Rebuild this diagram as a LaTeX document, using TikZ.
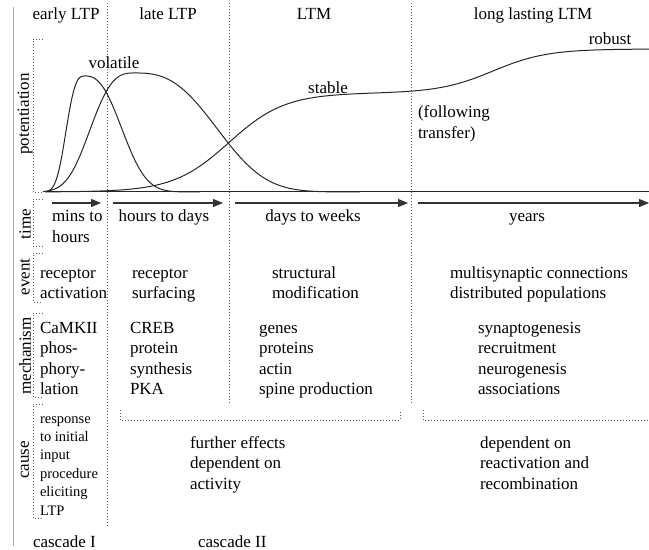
\documentclass[tikz,border=0pt]{standalone}
\usepackage{fontspec}
\setmainfont{Liberation Serif}
\usetikzlibrary{arrows.meta}
\begin{document}
\begin{tikzpicture}[x=1bp,y=-1bp,
  every node/.style={inner sep=0pt, outer sep=0pt},
  lbl/.style={font=\fontsize{17bp}{20.5bp}\selectfont, align=left, anchor=base west},
  hdr/.style={font=\fontsize{17bp}{20.5bp}\selectfont, anchor=base},
  rowlbl/.style={font=\fontsize{17bp}{20bp}\selectfont, rotate=90, anchor=center},
  smalllbl/.style={font=\fontsize{14.5bp}{18.4bp}\selectfont, align=left, anchor=base west},
  dots/.style={draw=black!65, line width=0.9bp, dash pattern=on 0.9bp off 2.1bp},
  curve/.style={draw=black!85, line width=1bp},
  tarrow/.style={draw=black!80, line width=1.1bp, -{Triangle[length=10bp,width=8bp]}},
]
\useasboundingbox (0,0) rectangle (649,550);

% left gray rule
\draw[black!35, line width=0.8bp] (13,7) -- (13,546);

% column separators
\draw[dots] (107,3) -- (107,527);
\draw[dots] (229,3) -- (229,405);
\draw[dots] (411,3) -- (411,405);

% row brackets
\draw[dots] (43,39) -- (33,39) -- (33,192) -- (43,192);
\draw[dots] (43,199) -- (33,199) -- (33,246) -- (43,246);
\draw[dots] (43,253) -- (33,253) -- (33,302) -- (43,302);
\draw[dots] (43,313) -- (33,313) -- (33,397) -- (43,397);
\draw[dots] (43,404) -- (33,404) -- (33,518) -- (43,518);

% cause brackets
\draw[dots] (120,410) -- (120,420) -- (400,420) -- (400,410);
\draw[dots] (423,410) -- (423,420) -- (649,420);

% row labels
\node[rowlbl] (lpot) at (25,114) {potentiation};
\node[rowlbl] (ltime) at (25,224) {time};
\node[rowlbl] (levent) at (25,277) {event};
\node[rowlbl] (lmech) at (25,356) {mechanism};
\node[rowlbl] (lcause) at (25,460) {cause};

% headers
\node[hdr] (h1) at (66,20) {early LTP};
\node[hdr] (h2) at (168,20) {late LTP};
\node[hdr] (h3) at (314,20) {LTM};
\node[hdr] (h4) at (533,20) {long lasting LTM};

% graph baseline
\coordinate (b0) at (43,192);
\coordinate (b1) at (649,192);
\draw[black!85, line width=1bp] (b0) -- (b1);

% curves
\draw[curve] plot[domain=45:85, samples=60] (\x, {192-116*exp(-((85.01-\x)/22)^3)})
             -- plot[domain=85.01:200, samples=80] (\x, {192-116*exp(-((\x-85)/45)^2.5)});
\draw[curve] plot[domain=45:135, samples=80] (\x, {192-119*exp(-((135.01-\x)/52)^3)})
             -- plot[domain=135.01:360, samples=120] (\x, {192-119*exp(-((\x-135)/97.4)^2.7)});
\draw[curve] plot[domain=45:649, samples=200] (\x, {192-99/(1+exp(-max((\x-229)/28,-9)))-44/(1+exp(-max((\x-493)/27,-9)))});

% curve labels
\node[hdr] (vol) at (114,69) {volatile};
\node[hdr] (stab) at (328,94) {stable};
\node[hdr] (rob) at (610,45) {robust};
\node[lbl] (foll) at (418,138.5) {(following\\transfer)};

% time arrows
\coordinate (t1s) at (52,203);  \coordinate (t1e) at (101,203);
\coordinate (t2s) at (113,203); \coordinate (t2e) at (223,203);
\coordinate (t3s) at (235,203); \coordinate (t3e) at (408,203);
\coordinate (t4s) at (418,203); \coordinate (t4e) at (649,203);
\draw[tarrow] (t1s) -- (t1e);
\draw[tarrow] (t2s) -- (t2e);
\draw[tarrow] (t3s) -- (t3e);
\draw[tarrow] (t4s) -- (t4e);

% time labels
\node[lbl] (tm1) at (52,242.5) {mins to\\hours};
\node[hdr] (tm2) at (164,222) {hours to days};
\node[hdr] (tm3) at (313,222) {days to weeks};
\node[hdr] (tm4) at (527,222) {years};

% event
\node[lbl] (ev1) at (40,298.5) {receptor\\activation};
\node[lbl] (ev2) at (132,298.5) {receptor\\surfacing};
\node[lbl] (ev3) at (272,298.5) {structural\\modification};
\node[lbl] (ev4) at (450,298.5) {multisynaptic connections\\distributed populations};

% mechanism
\node[lbl] (me1) at (40,394.5) {CaMKII\\phos-\\phory-\\lation};
\node[lbl] (me2) at (130,394.5) {CREB\\protein\\synthesis\\PKA};
\node[lbl] (me3) at (259,394.5) {genes\\proteins\\actin\\spine production};
\node[lbl] (me4) at (478,394.5) {synaptogenesis\\recruitment\\neurogenesis\\associations};

% cause
\node[smalllbl] (ca1) at (40,515) {response\\to initial\\input\\procedure\\eliciting\\LTP};
\node[lbl] (ca2) at (190,489) {further effects\\dependent on\\activity};
\node[lbl] (ca3) at (480,489) {dependent on\\reactivation and\\recombination};

% cascades
\node[lbl] (cas1) at (33,547) {cascade I};
\node[lbl] (cas2) at (198,547) {cascade II};
\end{tikzpicture}
\end{document}
